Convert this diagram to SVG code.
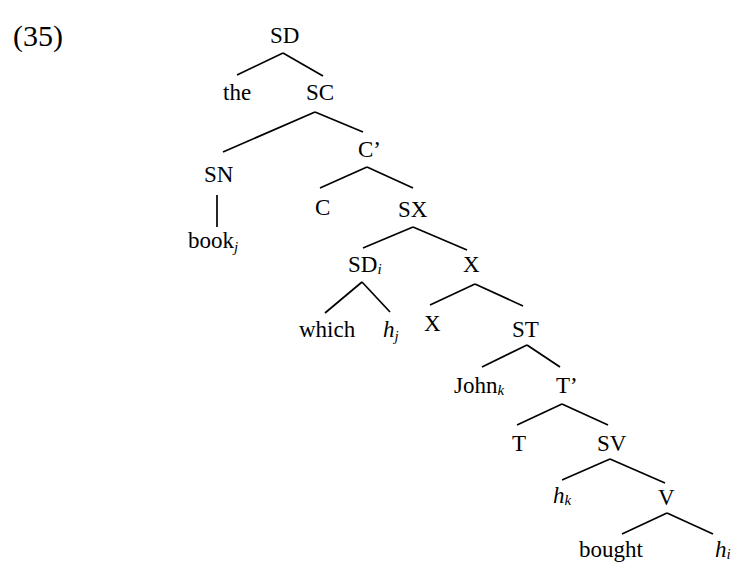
<svg xmlns="http://www.w3.org/2000/svg" width="733" height="563" viewBox="0 0 733 563">
  <style>
    text { font-family: "Liberation Serif", "Times New Roman", serif; font-size: 23px; fill: #000; }
    .num { font-size: 30px; }
    .it { font-style: italic; }
    .sub { font-style: italic; font-size: 15px; }
    #edges line { stroke: #000; stroke-width: 1.7; stroke-linecap: butt; }
  </style>
  <rect width="733" height="563" fill="#fff"/>

  <text class="num" x="13" y="46">(35)</text>

  <!-- tree branches -->
  <g id="edges">
    <line x1="283" y1="53" x2="237" y2="75"/>
    <line x1="283" y1="53" x2="323" y2="76"/>
    <line x1="315" y1="112" x2="223" y2="152"/>
    <line x1="315" y1="112" x2="363" y2="132"/>
    <line x1="217" y1="195" x2="217" y2="227"/>
    <line x1="367" y1="167" x2="320" y2="188"/>
    <line x1="367" y1="167" x2="413" y2="188"/>
    <line x1="413" y1="227" x2="363" y2="248"/>
    <line x1="413" y1="227" x2="467" y2="250"/>
    <line x1="362" y1="282" x2="325" y2="313"/>
    <line x1="362" y1="282" x2="390" y2="312"/>
    <line x1="475" y1="284" x2="430" y2="305"/>
    <line x1="475" y1="284" x2="523" y2="306"/>
    <line x1="527" y1="345" x2="482" y2="367"/>
    <line x1="527" y1="345" x2="560" y2="367"/>
    <line x1="562" y1="404" x2="517" y2="425"/>
    <line x1="562" y1="404" x2="608" y2="425"/>
    <line x1="610" y1="459" x2="562" y2="480"/>
    <line x1="610" y1="459" x2="665" y2="483"/>
    <line x1="667" y1="513" x2="622" y2="534"/>
    <line x1="667" y1="513" x2="713" y2="534"/>
  </g>

  <!-- node labels -->
  <g id="n-sd"><text x="270" y="43">SD</text></g>
  <g id="n-the"><text x="223" y="100">the</text></g>
  <g id="n-sc"><text x="306" y="100">SC</text></g>
  <g id="n-cbar"><text x="358" y="157">C’</text></g>
  <g id="n-sn"><text x="204" y="182">SN</text></g>
  <g id="n-book"><text x="188" y="248">book<tspan class="sub" dy="4">j</tspan></text></g>
  <g id="n-c"><text x="315" y="215">C</text></g>
  <g id="n-sx"><text x="398" y="217">SX</text></g>
  <g id="n-sdi"><text x="348" y="272">SD<tspan class="sub" dy="2">i</tspan></text></g>
  <g id="n-xbar"><text x="463" y="272">X</text></g>
  <g id="n-which"><text x="299" y="337">which</text></g>
  <g id="n-hj"><text x="383" y="337"><tspan class="it">h</tspan><tspan class="sub" dy="4">j</tspan></text></g>
  <g id="n-x"><text x="424" y="331">X</text></g>
  <g id="n-st"><text x="512" y="337">ST</text></g>
  <g id="n-john"><text x="454" y="393">John<tspan class="sub" dy="2">k</tspan></text></g>
  <g id="n-tbar"><text x="556" y="393">T’</text></g>
  <g id="n-t"><text x="512" y="451">T</text></g>
  <g id="n-sv"><text x="597" y="451">SV</text></g>
  <g id="n-hk"><text x="553" y="503"><tspan class="it">h</tspan><tspan class="sub" dy="2">k</tspan></text></g>
  <g id="n-v"><text x="658" y="505">V</text></g>
  <g id="n-bought"><text x="579" y="557">bought</text></g>
  <g id="n-hi"><text x="715" y="557"><tspan class="it">h</tspan><tspan class="sub" dy="2">i</tspan></text></g>
</svg>
